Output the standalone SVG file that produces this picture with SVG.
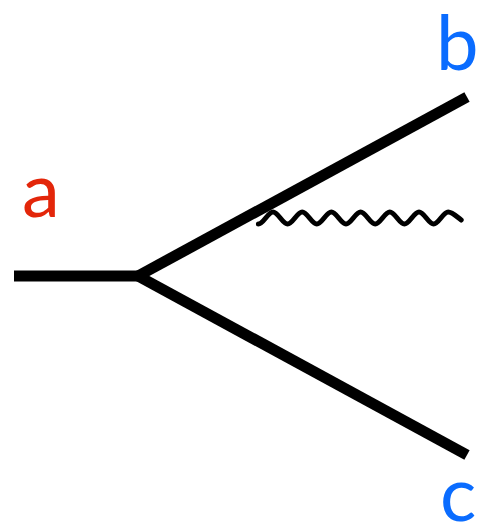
<svg xmlns="http://www.w3.org/2000/svg" width="482" height="525" viewBox="0 0 482 525">
<style>
.line{stroke:#000;stroke-width:11;fill:none;stroke-linecap:butt}
.wave{stroke:#000;stroke-width:5;fill:none;stroke-linecap:round;stroke-linejoin:round}
.lbl{font-family:Lato,"Open Sans",sans-serif;font-size:76px}
</style>
<rect width="482" height="525" fill="#fff"/>
<g id="connectors">
<line class="line" x1="14" y1="276" x2="140" y2="276"/>
<line class="line" x1="138" y1="276" x2="467" y2="97"/>
<line class="line" x1="138" y1="276" x2="467" y2="455"/>
<path class="wave" d="M258.4,224 c5,0 9.6,-12 14.6,-12 s9.6,12 14.6,12 s9.6,-12 14.6,-12 s9.6,12 14.6,12 s9.6,-12 14.6,-12 s9.6,12 14.6,12 s9.6,-12 14.6,-12 s9.6,12 14.6,12 s9.6,-12 14.6,-12 s9.6,12 14.6,12 s9.6,-12 14.6,-12 s9.6,12 14.6,12 s9.6,-12 14.6,-12 c4,0 9,5 13,8"/>
</g>
<g id="a"><text class="lbl" x="22" y="217" fill="#e3260a" font-size="80">a</text></g>
<g id="b"><text class="lbl" x="436" y="70" fill="#0a6cff">b</text></g>
<g id="c"><text class="lbl" x="440" y="521" fill="#0a6cff">c</text></g>
</svg>
